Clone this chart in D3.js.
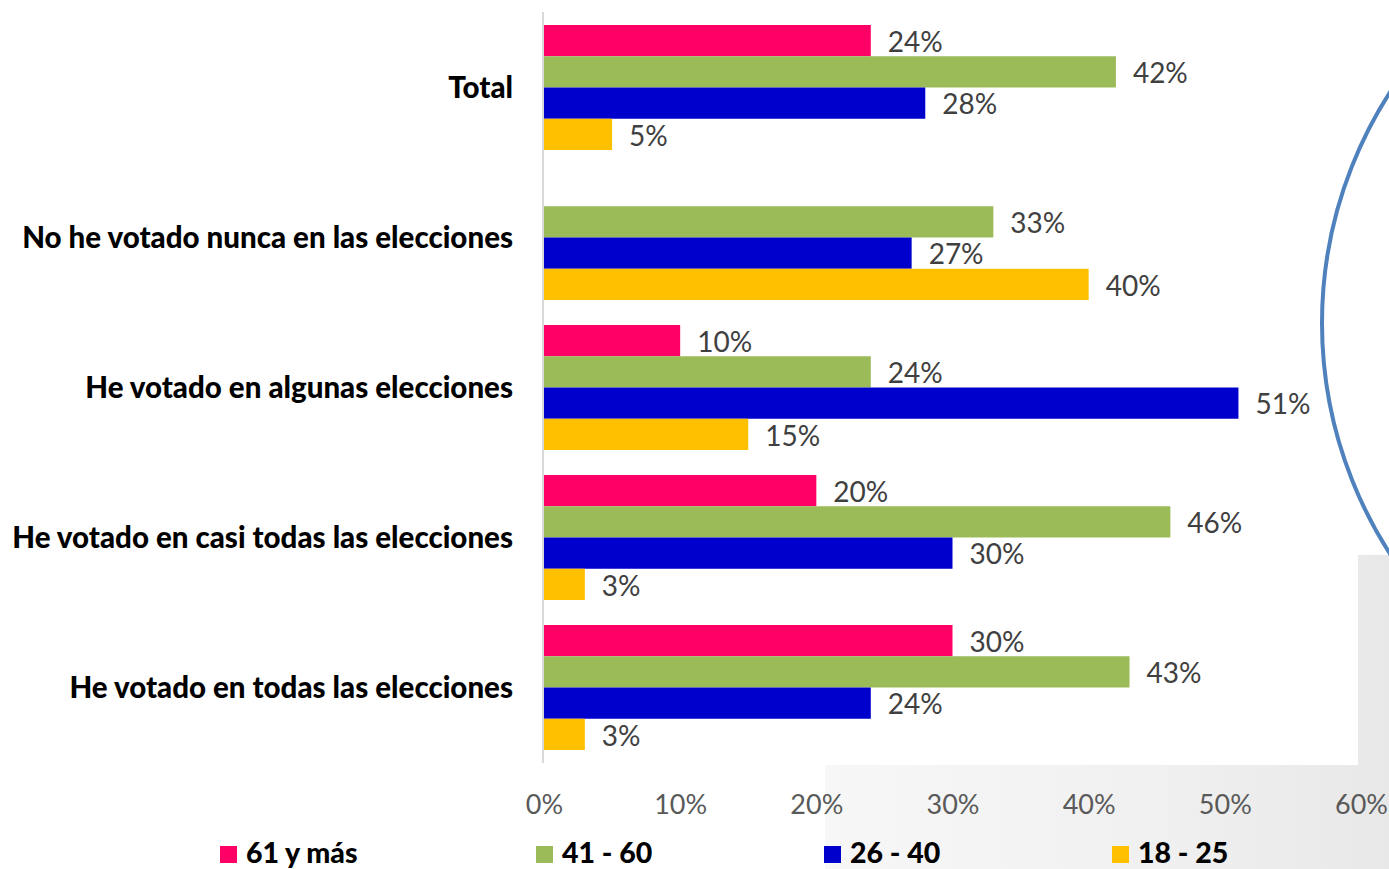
<!DOCTYPE html>
<html>
<head>
<meta charset="utf-8">
<script src="https://cdn.jsdelivr.net/npm/d3@7"></script>
<style>
  html, body { margin: 0; padding: 0; background: #fff; }
  svg { display: block; }
</style>
</head>
<body>
<svg id="chart"></svg>
<script>
// Données du graphique
const categories = [
    "Total",
    "No he votado nunca en las elecciones",
    "He votado en algunas elecciones",
    "He votado en casi todas las elecciones",
    "He votado en todas las elecciones"
];
const seriesNames = ["61 y más", "41 - 60", "26 - 40", "18 - 25"];
const values61 = [24, null, 10, 20, 30];
const values41 = [42, 33, 24, 46, 43];
const values26 = [28, 27, 51, 30, 24];
const values18 = [5, 40, 15, 3, 3];
const tickValues = [0, 10, 20, 30, 40, 50, 60];
const seriesColors = ["#FF0066", "#9BBB59", "#0000CC", "#FFC000"];

const width = 1389;
const height = 869;
const font = "Lato, 'Open Sans', sans-serif";

const svg = d3.select("#chart")
    .attr("width", width)
    .attr("height", height);

// Fond : photo grise estompée
const defs = svg.append("defs");
const grad = defs.append("linearGradient")
    .attr("id", "bgGrey")
    .attr("x1", "0%").attr("x2", "100%");
grad.append("stop").attr("offset", "0%").attr("stop-color", "#f7f7f7");
grad.append("stop").attr("offset", "60%").attr("stop-color", "#f0f0f0");
grad.append("stop").attr("offset", "100%").attr("stop-color", "#e8e8e8");

svg.append("rect")
    .attr("x", 825).attr("y", 555)
    .attr("width", width - 825).attr("height", height - 555)
    .attr("fill", "url(#bgGrey)");

svg.append("rect")
    .attr("x", 0).attr("y", 0)
    .attr("width", 1358).attr("height", 765)
    .attr("fill", "#fff");

// Cercle bleu à droite
svg.append("circle")
    .attr("cx", 1747).attr("cy", 323).attr("r", 425)
    .attr("fill", "#fff")
    .attr("stroke", "#4F81BD")
    .attr("stroke-width", 4);

// Échelles
const x = d3.scaleLinear()
    .domain([0, 60])
    .range([544, 1361]);

const y = d3.scaleBand()
    .domain(categories)
    .range([12.5, 762.5])
    .paddingInner(1 / 6)
    .paddingOuter(1 / 12);

const ySub = d3.scaleBand()
    .domain(seriesNames)
    .range([0, y.bandwidth()]);

const seriesValues = [values61, values41, values26, values18];
const rows = [];
categories.forEach((cat, i) => {
    seriesNames.forEach((s, j) => {
        const v = seriesValues[j][i];
        if (v != null) rows.push({ cat, s, v, color: seriesColors[j] });
    });
});

// Axe vertical
svg.append("line")
    .attr("x1", x(0) - 1).attr("x2", x(0) - 1)
    .attr("y1", 12).attr("y2", 763)
    .attr("stroke", "#d9d9d9")
    .attr("stroke-width", 2);

// Barres
svg.selectAll(".bar")
    .data(rows)
    .join("rect")
    .attr("class", "bar")
    .attr("x", x(0))
    .attr("y", d => y(d.cat) + ySub(d.s))
    .attr("width", d => x(d.v) - x(0))
    .attr("height", ySub.bandwidth())
    .attr("fill", d => d.color);

// Étiquettes de valeur
svg.selectAll(".value")
    .data(rows)
    .join("text")
    .attr("class", "value")
    .attr("x", d => x(d.v) + 17)
    .attr("y", d => y(d.cat) + ySub(d.s) + ySub.bandwidth() / 2)
    .attr("dy", "0.4em")
    .attr("font-family", font)
    .attr("font-size", 28)
    .attr("fill", "#404040")
    .text(d => d.v + "%");

// Noms des catégories
svg.selectAll(".cat")
    .data(categories)
    .join("text")
    .attr("class", "cat")
    .attr("x", 513)
    .attr("y", d => y(d) + y.bandwidth() / 2)
    .attr("dy", "0.36em")
    .attr("text-anchor", "end")
    .attr("font-family", font)
    .attr("font-weight", "900")
    .attr("font-size", 29.5)
    .attr("fill", "#000")
    .text(d => d);

// Axe X (sans ligne)
const xAxis = svg.append("g")
    .attr("transform", "translate(0, 790)")
    .call(d3.axisBottom(x).tickValues(tickValues).tickSize(0).tickFormat(d => d + "%"));
xAxis.select(".domain").remove();
xAxis.selectAll("text")
    .attr("font-family", font)
    .attr("font-size", 27)
    .attr("fill", "#595959")
    .attr("dy", "0.71em")
    .attr("y", 5);

// Légende
const legendX = d3.scaleOrdinal()
    .domain(seriesNames)
    .range([220, 536, 824, 1112]);

const legend = svg.selectAll(".legend")
    .data(seriesNames)
    .join("g")
    .attr("class", "legend")
    .attr("transform", d => `translate(${legendX(d)}, 846)`);

legend.append("rect")
    .attr("width", 17).attr("height", 17)
    .attr("fill", (d, i) => seriesColors[i]);

legend.append("text")
    .attr("x", 26)
    .attr("y", 17)
    .attr("font-family", font)
    .attr("font-weight", "900")
    .attr("font-size", 28.5)
    .attr("fill", "#000")
    .text(d => d);
</script>
</body>
</html>
